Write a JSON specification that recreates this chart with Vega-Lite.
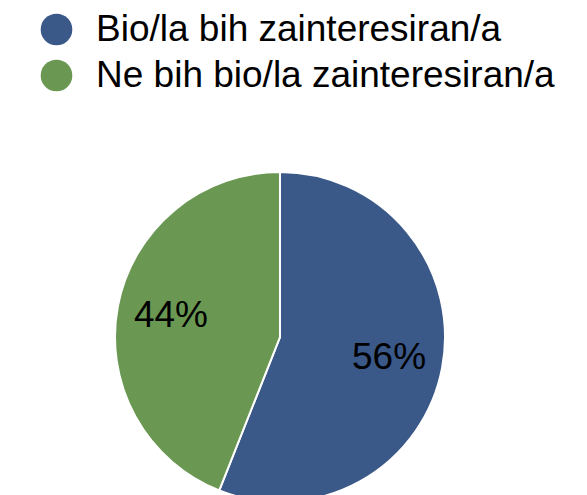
{
  "$schema": "https://vega.github.io/schema/vega-lite/v6.json",
  "width": 560,
  "height": 674,
  "autosize": {"type": "none"},
  "padding": {"left": 0, "top": 0, "right": 27, "bottom": 0},
  "background": "white",
  "config": {"view": {"stroke": null}, "font": "Liberation Sans"},
  "data": {
    "values": [
      {"answer": "Bio/la bih zainteresiran/a", "share": 0.56, "order": 1},
      {"answer": "Ne bih bio/la zainteresiran/a", "share": 0.44, "order": 2}
    ]
  },
  "encoding": {
    "theta": {"field": "share", "type": "quantitative", "stack": true},
    "order": {"field": "order", "type": "quantitative"}
  },
  "layer": [
    {
      "mark": {"type": "arc", "outerRadius": 165, "stroke": "white", "strokeWidth": 2},
      "encoding": {
        "color": {
          "field": "answer",
          "type": "nominal",
          "scale": {
            "domain": ["Bio/la bih zainteresiran/a", "Ne bih bio/la zainteresiran/a"],
            "range": ["#3A5888", "#6A9853"]
          },
          "legend": {
            "title": null,
            "orient": "none",
            "legendX": 38,
            "legendY": 11,
            "padding": 0,
            "symbolType": "circle",
            "symbolSize": 1000,
            "symbolStrokeWidth": 0,
            "labelFontSize": 37,
            "labelFont": "Liberation Sans",
            "labelColor": "black",
            "labelOffset": 21,
            "rowPadding": 8,
            "labelLimit": 600
          }
        }
      }
    },
    {
      "mark": {"type": "text", "radius": 111, "fontSize": 37, "font": "Liberation Sans", "color": "black", "align": "center", "baseline": "middle"},
      "encoding": {
        "text": {"field": "share", "type": "quantitative", "format": ".0%"}
      }
    }
  ]
}
